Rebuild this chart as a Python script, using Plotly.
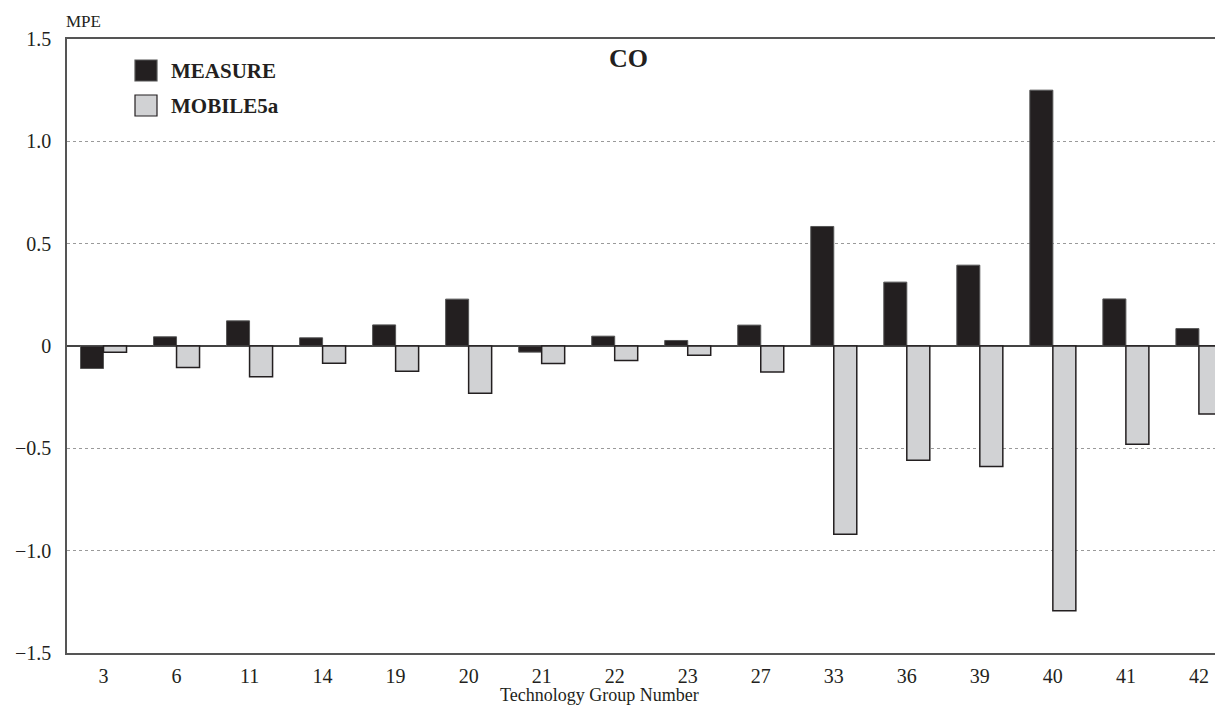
import plotly.graph_objects as go

groups = ["3", "6", "11", "14", "19", "20", "21", "22", "23", "27", "33", "36", "39", "40", "41", "42"]
measure = [-0.11, 0.045, 0.123, 0.04, 0.103, 0.229, -0.03, 0.048, 0.027, 0.102, 0.584, 0.312, 0.395, 1.25, 0.23, 0.085]
mobile5a = [-0.03, -0.105, -0.15, -0.084, -0.123, -0.231, -0.086, -0.071, -0.045, -0.127, -0.92, -0.558, -0.589, -1.293, -0.48, -0.332]
series_names = ["MEASURE", "MOBILE5a"]
y_ticks = [-1.5, -1.0, -0.5, 0, 0.5, 1.0, 1.5]
y_tick_labels = ["\u22121.5", "\u22121.0", "\u22120.5", "0", "0.5", "1.0", "1.5"]

FONT = "Liberation Serif"
DARK = "#231F20"
LIGHT = "#D1D2D4"

# page body adds an 8px offset; figure sized so it ends at the window edge
OFF = 8
W, H = 1223 - OFF, 721 - OFF
L, R, T, B = 67 - OFF, 0, 39 - OFF, 68

fig = go.Figure()
fig.add_trace(go.Bar(x=groups, y=measure, name=series_names[0],
                     marker=dict(color=DARK, line=dict(color="#555555", width=1))))
fig.add_trace(go.Bar(x=groups, y=mobile5a, name=series_names[1],
                     marker=dict(color=LIGHT, line=dict(color=DARK, width=1.5))))

fig.update_layout(
    width=W, height=H,
    margin=dict(l=L, r=R, t=T, b=B, autoexpand=False),
    paper_bgcolor="white", plot_bgcolor="white",
    barmode="group", bargap=0.37, bargroupgap=0,
    showlegend=False,
    font=dict(family=FONT, size=18, color="#231F20"),
    xaxis=dict(
        type="category", range=[-0.5, 15.33], automargin=False,
        showline=True, linecolor="#555555", linewidth=1.5, mirror=True,
        ticks="", showgrid=False, tickfont=dict(size=20), ticklabelstandoff=4,
    ),
    yaxis=dict(
        range=[-1.5, 1.5], tickvals=y_ticks, ticktext=y_tick_labels, automargin=False,
        showline=True, linecolor="#555555", linewidth=1.5,
        ticks="", showgrid=True, gridcolor="#9a9a9a", griddash="dot", gridwidth=1,
        zeroline=True, zerolinecolor="#444444", zerolinewidth=1.5,
        tickfont=dict(size=20), ticklabelstandoff=10,
    ),
)

def px_x(px):
    return (px - 67) / (1223 - 67)

def px_y(py):
    return (721 - B - py) / (721 - B - 39)

# Axis captions
fig.add_annotation(text="MPE", xref="paper", yref="paper", x=px_x(83), y=px_y(22),
                   xanchor="center", yanchor="middle", showarrow=False, font=dict(size=17))
fig.add_annotation(text="Technology Group Number", xref="paper", yref="paper", x=px_x(599),
                   y=px_y(695), xanchor="center", yanchor="middle", showarrow=False,
                   font=dict(size=18))
fig.add_annotation(text="<b>CO</b>", xref="paper", yref="paper", x=px_x(628.5),
                   y=px_y(58), xanchor="center", yanchor="middle", showarrow=False,
                   font=dict(size=26))

# Custom legend
legend_items = [(series_names[0], DARK, "#555555", 60, 81), (series_names[1], LIGHT, DARK, 95, 116)]
for name, fill, line, y0, y1 in legend_items:
    fig.add_shape(type="rect", xref="paper", yref="paper",
                  x0=px_x(135), x1=px_x(157), y0=px_y(y1), y1=px_y(y0),
                  fillcolor=fill, line=dict(color=line, width=1.2))
    fig.add_annotation(text=f"<b>{name}</b>", xref="paper", yref="paper",
                       x=px_x(169), y=px_y((y0 + y1) / 2), xanchor="left", yanchor="middle",
                       showarrow=False, font=dict(size=21))

fig.write_html("out.html")
